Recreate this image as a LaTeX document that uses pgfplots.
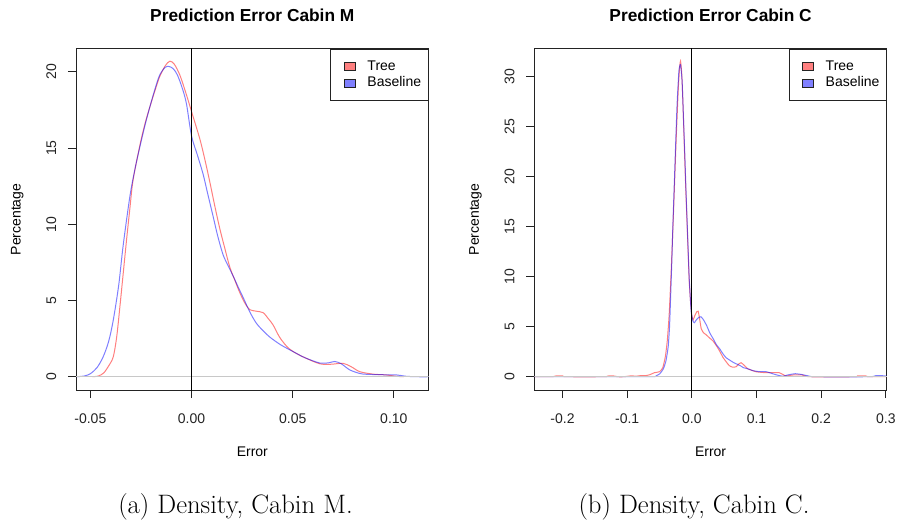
\documentclass[border=0pt]{standalone}
\usepackage{fontspec}
\newfontfamily\arial{Liberation Sans}
\usepackage{pgfplots}
\pgfplotsset{compat=1.18}
\definecolor{treefill}{RGB}{255,128,128}
\definecolor{basefill}{RGB}{128,128,255}
\definecolor{axisgray}{RGB}{35,35,35}
\definecolor{zerogray}{RGB}{200,200,200}
\newcommand\rfont{\arial\fontsize{10.5}{12.6}\selectfont}

\pgfplotsset{
  boxlegend/.style={legend image code/.code={%
    \path (-4.5pt,0pt);
    \draw[##1, line width=0.6pt] (0pt,-3pt) rectangle (8.25pt,3pt);}},
  rstyle/.style={
    scale only axis, width=264.5pt, height=255.75pt,
    axis line style={axisgray, line width=0.75pt},
    tick style={axisgray, line width=0.75pt},
    tick align=outside, major tick length=6pt,
    xtick pos=bottom, ytick pos=left,
    ticklabel style={font=\rfont, text=axisgray},
    xticklabel style={yshift=-8.3pt},
    yticklabel style={rotate=90, anchor=south, yshift=5.25pt},
    xlabel style={font=\rfont, at={(axis description cs:0.5,-0.181)}, anchor=center},
    ylabel style={font=\rfont, at={(axis description cs:-0.1664,0.5)}, anchor=center},
    every axis title shift=0pt,
    title style={font=\arial\bfseries\fontsize{13}{15}\selectfont, at={(axis description cs:0.5,1.0997)}, anchor=center},
    legend style={at={(1,1)}, anchor=north east, draw=axisgray, line width=0.75pt,
      font=\rfont, inner xsep=5.25pt, inner ysep=6.5pt, column sep=8.8pt,
      nodes={inner xsep=0pt, inner ysep=1.35pt, text height=7.6pt, text depth=2.2pt}},
    legend cell align=left,
    xlabel={Error}, ylabel={Percentage},
  },
  tree/.style={red, opacity=0.5, line width=0.75pt, forget plot},
  base/.style={blue, opacity=0.5, line width=0.75pt, forget plot},
}

\begin{document}
\begin{tikzpicture}
\path[use as bounding box] (0,0) rectangle (672.75pt,-393pt);

% (a) Cabin M
\begin{axis}[rstyle, at={(57pt,-292.5pt)}, anchor=south west,
  title={Prediction Error Cabin M},
  xmin=-0.0571, xmax=0.1172, ymin=-0.87, ymax=21.5,
  xtick={-0.05,0,0.05,0.10}, xticklabels={-0.05,0.00,0.05,0.10},
  ytick={0,5,10,15,20}, yticklabels={0,5,10,15,20}]
\addplot[tree, smooth] coordinates {
(-0.0490,0.0)(-0.0460,0.05)(-0.0434,0.25)(-0.0410,0.7)(-0.0387,1.3)
(-0.0370,2.6)(-0.0354,4.6)(-0.0336,7.0)(-0.0321,9.0)(-0.0305,11.0)
(-0.0289,12.9)(-0.0255,15.2)(-0.0230,16.6)(-0.0206,17.7)(-0.0180,18.8)
(-0.0157,19.7)(-0.0130,20.4)(-0.0107,20.7)(-0.0085,20.5)(-0.0058,19.8)
(-0.0030,18.7)(0.0000,17.4)(0.0041,15.6)(0.0065,14.3)(0.0090,12.8)
(0.0115,11.2)(0.0140,9.7)(0.0165,8.4)(0.0189,7.2)(0.0215,6.3)
(0.0239,5.5)(0.0265,4.8)(0.0288,4.4)(0.0320,4.3)(0.0354,4.2)
(0.0380,3.8)(0.0403,3.4)(0.0435,2.6)(0.0470,2.0)(0.0502,1.65)
(0.0560,1.25)(0.0634,0.85)(0.0690,0.82)(0.0749,0.88)(0.0790,0.65)
(0.0832,0.33)(0.0898,0.17)(0.0960,0.12)(0.1013,0.03)(0.1050,0.0)};
\addplot[base, smooth] coordinates {
(-0.0571,0.0)(-0.0530,0.05)(-0.0500,0.2)(-0.0467,0.6)(-0.0437,1.3)
(-0.0410,2.3)(-0.0387,3.7)(-0.0360,6.0)(-0.0338,8.6)(-0.0305,11.8)
(-0.0280,13.6)(-0.0255,15.1)(-0.0230,16.5)(-0.0206,17.7)(-0.0180,18.9)
(-0.0157,19.8)(-0.0130,20.3)(-0.0110,20.35)(-0.0090,20.2)(-0.0070,19.8)
(-0.0045,18.9)(-0.0025,17.9)(0.0000,15.8)(0.0030,14.5)(0.0057,13.3)
(0.0080,12.0)(0.0107,10.5)(0.0130,9.2)(0.0156,8.0)(0.0180,7.3)
(0.0206,6.6)(0.0230,5.9)(0.0255,5.2)(0.0290,4.2)(0.0321,3.5)
(0.0355,3.0)(0.0387,2.6)(0.0440,2.1)(0.0502,1.65)(0.0560,1.25)
(0.0634,0.9)(0.0680,0.92)(0.0708,1.0)(0.0740,0.85)(0.0782,0.45)
(0.0830,0.22)(0.0865,0.16)(0.0950,0.13)(0.1013,0.12)(0.1060,0.03)
(0.1120,0.0)(0.1172,0.0)};
\addplot[zerogray, line width=0.75pt, forget plot] coordinates {(-0.1,0)(0.2,0)};
\addplot[black, line width=0.75pt, forget plot] coordinates {(0,-5)(0,40)};
\addlegendimage{boxlegend, fill=treefill, draw=axisgray}
\addlegendentry{Tree}
\addlegendimage{boxlegend, fill=basefill, draw=axisgray}
\addlegendentry{Baseline}
\end{axis}

% (b) Cabin C
\begin{axis}[rstyle, at={(400.7pt,-292.5pt)}, anchor=south west,
  title={Prediction Error Cabin C},
  xmin=-0.2437, xmax=0.3017, ymin=-1.33, ymax=32.8,
  xtick={-0.2,-0.1,0,0.1,0.2,0.3}, xticklabels={-0.2,-0.1,0.0,0.1,0.2,0.3},
  ytick={0,5,10,15,20,25,30}, yticklabels={0,5,10,15,20,25,30}]
\addplot[tree, smooth, tension=0.3] coordinates {
(-0.2437,0)(-0.2150,0)(-0.2100,0.08)(-0.2000,0.08)(-0.1950,0)
(-0.1350,0)(-0.1300,0.07)(-0.1200,0.07)(-0.1150,0)(-0.1050,0)
(-0.0950,0.08)(-0.0850,0.06)(-0.0780,0.12)(-0.0720,0.1)(-0.0650,0.2)
(-0.0580,0.4)(-0.0500,0.5)(-0.0450,0.9)(-0.0410,2.0)(-0.0380,3.6)
(-0.0350,6.3)(-0.0320,10.5)(-0.0295,14.5)(-0.0265,19.8)(-0.0240,24.2)
(-0.0210,28.8)(-0.0190,30.9)(-0.0175,31.6)(-0.0155,30.2)(-0.0135,26.8)
(-0.0115,22.8)(-0.0095,19.0)(-0.0075,15.5)(-0.0055,12.0)(-0.0040,9.5)
(-0.0020,7.5)(0.0000,6.1)(0.0020,5.7)(0.0045,6.1)(0.0075,6.5)
(0.0098,6.55)(0.0120,5.8)(0.0145,4.8)(0.0180,4.4)(0.0221,4.2)
(0.0270,3.9)(0.0324,3.6)(0.0380,3.1)(0.0427,2.6)(0.0480,1.95)
(0.0530,1.5)(0.0580,1.1)(0.0632,0.95)(0.0684,1.0)(0.0730,1.3)
(0.0761,1.4)(0.0800,1.2)(0.0864,0.8)(0.0992,0.5)(0.1147,0.4)
(0.1350,0.4)(0.1455,0.07)(0.1560,0.17)(0.1710,0.17)(0.1815,0)
(0.2520,0)(0.2560,0.08)(0.2690,0.08)(0.2720,0)(0.3017,0)};
\addplot[base, smooth, tension=0.3] coordinates {
(-0.2437,0)(-0.0650,0)(-0.0550,0.1)(-0.0495,0.3)(-0.0440,0.8)
(-0.0400,1.6)(-0.0366,3.0)(-0.0345,5.0)(-0.0330,7.7)(-0.0310,11.5)
(-0.0295,14.8)(-0.0265,20.5)(-0.0230,27.0)(-0.0200,30.6)(-0.0175,31.25)
(-0.0150,29.5)(-0.0130,26.0)(-0.0108,22.0)(-0.0090,18.5)(-0.0073,15.5)
(-0.0055,12.3)(-0.0042,10.0)(-0.0025,8.0)(-0.0010,6.5)(0.0015,5.6)
(0.0040,5.4)(0.0070,5.7)(0.0110,5.95)(0.0140,6.0)(0.0180,5.7)
(0.0230,5.1)(0.0280,4.35)(0.0330,3.8)(0.0380,3.2)(0.0430,2.8)
(0.0480,2.3)(0.0530,1.9)(0.0600,1.6)(0.0650,1.4)(0.0700,1.25)
(0.0750,1.1)(0.0800,0.9)(0.0860,0.8)(0.0950,0.6)(0.1050,0.5)
(0.1150,0.5)(0.1250,0.3)(0.1300,0.2)(0.1404,0.05)(0.1500,0.2)
(0.1600,0.3)(0.1700,0.22)(0.1800,0.08)(0.1900,0)(0.2750,0)
(0.2840,0.1)(0.2950,0.1)(0.3017,0.05)};
\addplot[zerogray, line width=0.75pt, forget plot] coordinates {(-0.3,0)(0.4,0)};
\addplot[black, line width=0.75pt, forget plot] coordinates {(0,-5)(0,40)};
\addlegendimage{boxlegend, fill=treefill, draw=axisgray}
\addlegendentry{Tree}
\addlegendimage{boxlegend, fill=basefill, draw=axisgray}
\addlegendentry{Baseline}
\end{axis}

\node[font=\fontsize{20}{24}\selectfont] at (176.6pt,-380.25pt) {(a) Density, Cabin M.};
\node[font=\fontsize{20}{24}\selectfont] at (520.5pt,-380.25pt) {(b) Density, Cabin C.};
\end{tikzpicture}
\end{document}
